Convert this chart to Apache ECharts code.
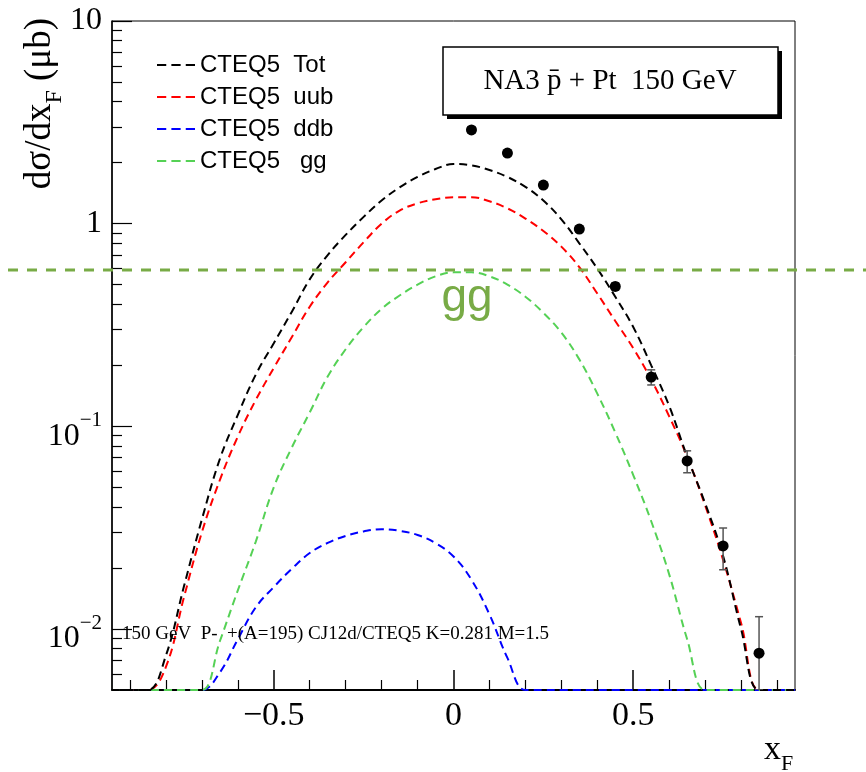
<!DOCTYPE html>
<html>
<head>
<meta charset="utf-8">
<script src="https://cdn.jsdelivr.net/npm/echarts@6/dist/echarts.min.js"></script>
<style>
  html, body { margin: 0; padding: 0; background: #fff; }
  #chart { width: 866px; height: 772px; }
</style>
</head>
<body>
<div id="chart"></div>
<script>
// x_F grid of the model curves
const xF = [-0.95, -0.9, -0.85, -0.8, -0.75, -0.7, -0.65, -0.6, -0.55, -0.5,
  -0.45, -0.4, -0.35, -0.3, -0.25, -0.2, -0.15, -0.1, -0.05, 0,
  0.05, 0.1, 0.15, 0.2, 0.25, 0.3, 0.35, 0.4, 0.45, 0.5,
  0.55, 0.6, 0.65, 0.7, 0.75, 0.8, 0.85, 0.9, 0.95]

const totVals = [0.0008, 0.0018, 0.0038, 0.0074, 0.0162, 0.0347, 0.069, 0.114, 0.18, 0.257,
  0.367, 0.531, 0.70, 0.88, 1.08, 1.30, 1.51, 1.70, 1.86, 1.97,
  1.94, 1.84, 1.70, 1.52, 1.30, 1.05, 0.80, 0.60, 0.436, 0.309,
  0.20, 0.126, 0.0708, 0.0417, 0.0229, 0.010, 0.0035, 0.001, 0.0004]

const uubVals = [0.0003, 0.0012, 0.0032, 0.0065, 0.0143, 0.030, 0.0543, 0.089, 0.135, 0.194,
  0.275, 0.389, 0.513, 0.645, 0.81, 1.0, 1.16, 1.26, 1.32, 1.35,
  1.35, 1.29, 1.19, 1.06, 0.92, 0.77, 0.61, 0.452, 0.331, 0.243,
  0.17, 0.112, 0.0708, 0.0407, 0.0219, 0.0107, 0.0035, 0.0008, 0.0003]

const ddbVals = [0.0003, 0.0006, 0.001, 0.0017, 0.0028, 0.0045, 0.0061, 0.0089, 0.0128, 0.0161,
  0.0198, 0.0237, 0.0266, 0.0288, 0.0303, 0.0311, 0.0305, 0.0291, 0.0265, 0.0228,
  0.0175, 0.0118, 0.0072, 0.0048, 0.0001, 0.0001, 0.0001, 0.0001, 0.0001, 0.0001,
  0.0001, 0.0001, 0.0001, 0.0001, 0.0001, 0.0001, 0.0001, 0.0001, 0.0001]

const ggVals = [0.0003, 0.0006, 0.001, 0.0016, 0.0025, 0.004, 0.0087, 0.0155, 0.027, 0.050,
  0.0785, 0.117, 0.176, 0.24, 0.309, 0.38, 0.442, 0.50, 0.55, 0.575,
  0.575, 0.55, 0.50, 0.436, 0.363, 0.29, 0.214, 0.145, 0.0933, 0.0575,
  0.034, 0.0186, 0.0089, 0.004, 0.001, 0.0003, 0.0001, 0.0001, 0.0001]

// NA3 data points
const ptX = [0.05, 0.15, 0.25, 0.35, 0.45, 0.55, 0.65, 0.75, 0.85]
const ptY = [2.9, 2.23, 1.55, 0.94, 0.49, 0.175, 0.0675, 0.0257, 0.0076]
const ptLo = [2.8, 2.16, 1.5, 0.91, 0.47, 0.16, 0.059, 0.0196, 0.002]
const ptHi = [3.0, 2.3, 1.6, 0.97, 0.51, 0.19, 0.0757, 0.0315, 0.0115]

const ggLevel = 0.59

const seriesNames = ['CTEQ5  Tot', 'CTEQ5  uub', 'CTEQ5  ddb', 'CTEQ5   gg']
const seriesColors = ['#000000', '#ff0000', '#0000ff', '#55d155']

const xMajor = [-0.5, 0, 0.5]
const xMajorLabels = ['\u22120.5', '0', '0.5']
const xMinor = [-0.9, -0.8, -0.7, -0.6, -0.4, -0.3, -0.2, -0.1, 0.1, 0.2, 0.3, 0.4, 0.6, 0.7, 0.8, 0.9]
const yMajor = [0.01, 0.1, 1, 10]
const yMajorLabels = ['{b|10}{e|\u22122}', '{b|10}{e|\u22121}', '{p|1}', '{p|10}']
const yMinor = [0.006, 0.007, 0.008, 0.009, 0.02, 0.03, 0.04, 0.05, 0.06, 0.07, 0.08, 0.09,
  0.2, 0.3, 0.4, 0.5, 0.6, 0.7, 0.8, 0.9, 2, 3, 4, 5, 6, 7, 8, 9]

const yMin = 0.005
const yMax = 10
const serif = 'Liberation Serif'
const sans = 'Liberation Sans'

const chart = echarts.init(document.getElementById('chart'))

// ROOT draws points below the frame minimum on the bottom edge
const curve = (vals) => xF.map((x, i) => [x, Math.max(vals[i], yMin)])

const lineSeries = [totVals, uubVals, ddbVals, ggVals].map((vals, i) => ({
  name: seriesNames[i],
  type: 'line',
  data: curve(vals),
  symbol: 'none',
  smooth: 0.4,
  color: seriesColors[i],
  lineStyle: {color: seriesColors[i], width: 2, type: [8, 5]},
  z: 3 + (i === 0 ? 1 : 0),
}))

const baseX = {
  type: 'value', min: -0.95, max: 0.95, position: 'bottom',
  splitLine: {show: false},
}
const baseY = {
  type: 'log', logBase: 10, min: yMin, max: yMax, position: 'left',
  splitLine: {show: false},
}

chart.setOption({
  animation: false,
  backgroundColor: '#fff',
  grid: {
    left: 112, right: 71, top: 21, bottom: 82,
    show: true, borderColor: '#000', borderWidth: 1,
  },
  legend: {
    orient: 'vertical',
    left: 157,
    top: 53,
    padding: 0,
    itemGap: 8,
    itemWidth: 38,
    itemHeight: 3,
    icon: 'path://M0,0h9v2h-9zM14,0h9v2h-9zM28,0h9v2h-9z',
    textStyle: {fontFamily: sans, fontSize: 24, color: '#000'},
    data: seriesNames,
  },
  xAxis: [
    Object.assign({}, baseX, {
      axisLine: {onZero: false, lineStyle: {color: '#000', width: 2}},
      axisTick: {inside: true, length: 20, customValues: xMajor, lineStyle: {color: '#000', width: 1.5}},
      axisLabel: {
        customValues: xMajor,
        margin: 9,
        fontFamily: serif,
        fontSize: 34,
        color: '#000',
        formatter: (v) => xMajorLabels[xMajor.findIndex(m => Math.abs(m - v) < 1e-6)],
      },
    }),
    Object.assign({}, baseX, {
      axisLine: {show: false, onZero: false},
      axisTick: {inside: true, length: 10, customValues: xMinor, lineStyle: {color: '#000', width: 1.2}},
      axisLabel: {show: false},
    }),
  ],
  yAxis: [
    Object.assign({}, baseY, {
      axisLine: {onZero: false, lineStyle: {color: '#000', width: 1.5}},
      axisTick: {inside: true, length: 20, customValues: yMajor, lineStyle: {color: '#000', width: 1.2}},
      axisLabel: {
        customValues: yMajor,
        margin: 10,
        color: '#000',
        formatter: (v) => yMajorLabels[Math.round(Math.log10(v)) + 2],
        rich: {
          b: {fontFamily: serif, fontSize: 32, lineHeight: 32, padding: [10, 0, 0, 0], verticalAlign: 'top'},
          e: {fontFamily: serif, fontSize: 21, lineHeight: 21, verticalAlign: 'top'},
          p: {fontFamily: serif, fontSize: 32, lineHeight: 32},
        },
      },
    }),
    Object.assign({}, baseY, {
      axisLine: {show: false, onZero: false},
      axisTick: {inside: true, length: 10, customValues: yMinor, lineStyle: {color: '#000', width: 1.2}},
      axisLabel: {show: false},
    }),
  ],
  series: lineSeries.concat([
    {
      name: 'errors',
      type: 'custom',
      clip: true,
      data: ptX.map((x, i) => [x, ptLo[i], ptHi[i]]),
      encode: {x: 0, y: [1, 2]},
      z: 5,
      renderItem: (params, api) => {
        const x = api.value(0)
        const top = api.coord([x, api.value(2)])
        const bot = api.coord([x, Math.max(api.value(1), yMin)])
        const st = {stroke: '#555', lineWidth: 1.5}
        return {
          type: 'group',
          children: [
            {type: 'line', shape: {x1: top[0], y1: top[1], x2: bot[0], y2: bot[1]}, style: st},
            {type: 'line', shape: {x1: top[0] - 4, y1: top[1], x2: top[0] + 4, y2: top[1]}, style: st},
            {type: 'line', shape: {x1: bot[0] - 4, y1: bot[1], x2: bot[0] + 4, y2: bot[1]}, style: st},
          ],
        }
      },
    },
    {
      name: 'NA3',
      type: 'scatter',
      data: ptX.map((x, i) => [x, ptY[i]]),
      symbol: 'circle',
      symbolSize: 11,
      itemStyle: {color: '#000', opacity: 1},
      z: 6,
    },
  ]),
})

const ggY = chart.convertToPixel({yAxisIndex: 0}, ggLevel)

chart.setOption({
  graphic: [
    // olive gg reference line across the whole pad
    {
      type: 'line', z: 10,
      shape: {x1: 8, y1: ggY, x2: 866, y2: ggY},
      style: {stroke: '#78ab46', lineWidth: 3, lineDash: [10, 9]},
    },
    {
      type: 'text', z: 10, x: 467, y: 298,
      style: {
        text: 'gg', font: '46px "Liberation Sans"', fill: '#78ab46',
        align: 'center', verticalAlign: 'middle', textAlign: 'center', textVerticalAlign: 'middle',
      },
    },
    // title box with shadow
    {type: 'rect', z: 10, shape: {x: 447, y: 51, width: 335, height: 68}, style: {fill: '#000'}},
    {type: 'rect', z: 10, shape: {x: 443, y: 47, width: 335, height: 68}, style: {fill: '#fff', stroke: '#000', lineWidth: 1.5}},
    {
      type: 'text', z: 11, x: 610, y: 81,
      style: {
        text: 'NA3 p\u0304 + Pt  150 GeV', font: '29px "Liberation Serif"', fill: '#000',
        align: 'center', verticalAlign: 'middle', textAlign: 'center', textVerticalAlign: 'middle',
      },
    },
    {
      type: 'text', z: 10, x: 122, y: 634,
      style: {
        text: '150 GeV  P-  +(A=195) CJ12d/CTEQ5 K=0.281 M=1.5', font: '19px "Liberation Serif"', fill: '#000',
        align: 'left', verticalAlign: 'middle', textAlign: 'left', textVerticalAlign: 'middle',
      },
    },
    // axis titles
    {
      type: 'text', z: 10, x: 40, y: 18, rotation: Math.PI / 2,
      style: {
        text: '{a|d\u03c3/dx}{s|F}{a| (\u03bcb)}', fill: '#000',
        align: 'right', verticalAlign: 'middle', textAlign: 'right', textVerticalAlign: 'middle',
        rich: {
          a: {fontFamily: serif, fontSize: 37, lineHeight: 37, verticalAlign: 'top'},
          s: {fontFamily: serif, fontSize: 24, lineHeight: 24, padding: [21, 0, 0, 0], verticalAlign: 'top'},
        },
      },
    },
    {
      type: 'text', z: 10, x: 764, y: 750,
      style: {
        text: '{a|x}{s|F}', fill: '#000',
        align: 'left', verticalAlign: 'middle', textAlign: 'left', textVerticalAlign: 'middle',
        rich: {
          a: {fontFamily: serif, fontSize: 34, lineHeight: 34, verticalAlign: 'top'},
          s: {fontFamily: serif, fontSize: 22, lineHeight: 22, padding: [20, 0, 0, 0], verticalAlign: 'top'},
        },
      },
    },
  ],
})
</script>
</body>
</html>
